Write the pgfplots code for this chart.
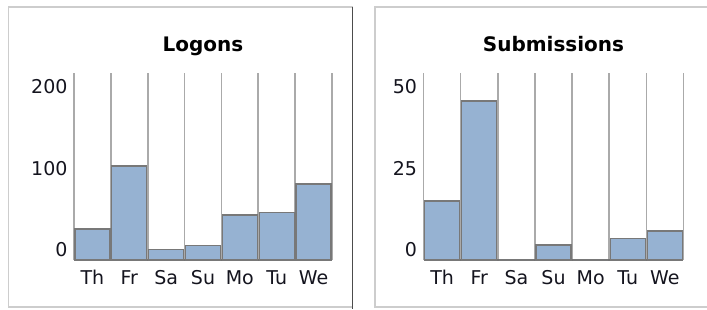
\documentclass[border=0pt]{standalone}
\usepackage{pgfplots}
\pgfplotsset{compat=1.18}
\usepackage{fontspec}
\setmainfont{DejaVu Sans}
\definecolor{barfill}{RGB}{150,178,210}
\definecolor{baredge}{RGB}{120,120,120}
\definecolor{gridc}{RGB}{170,170,170}
\definecolor{framec}{RGB}{205,205,205}
\definecolor{txt}{RGB}{20,20,30}
\pgfplotsset{
  daychart/.style={
    scale only axis,
    anchor=south west,
    height=187.5pt,
    xmin=-0.5, xmax=6.5,
    ymin=0,
    axis line style={draw=none},
    xtick={0,1,2,3,4,5,6},
    xticklabels={Th,Fr,Sa,Su,Mo,Tu,We},
    minor xtick={-0.5,0.5,1.5,2.5,3.5,4.5,5.5,6.5},
    xminorgrids=true,
    minor grid style={draw=gridc, line width=1.6pt},
    major tick length=0pt, minor tick length=0pt,
    extra y ticks={0}, extra y tick labels={},
    extra y tick style={grid=major, major grid style={draw=black!55, line width=2.4pt}},
    ticklabel style={font=\fontsize{19}{19}\selectfont, text=txt},
    yticklabel style={yshift=10pt, xshift=-3pt},
    xticklabel style={yshift=-7pt},
    title style={font=\bfseries\fontsize{20}{20}\selectfont, text depth=5pt, yshift=6pt},
    ybar, bar width=35pt,
    /pgf/number format/assume math mode=true,
    clip=false,
  }
}
\begin{document}
\begin{tikzpicture}[x=1pt,y=1pt]
\useasboundingbox (0,0) rectangle (707,-309);
\draw[framec, line width=1.2pt] (352.5,-7) -- (8.5,-7) -- (8.5,-307) -- (352.5,-307);
\draw[black!70, line width=1.6pt] (352.5,-7) -- (352.5,-309);
\draw[framec, line width=1.2pt] (708,-7) -- (375,-7) -- (375,-307) -- (708,-307);
\begin{axis}[daychart, at={(74pt,-260pt)}, width=258pt,
  ymax=230, ytick={0,100,200}, title={Logons}]
\addplot[fill=barfill, draw=baredge, line width=1.4pt] coordinates {
 (0,38) (1,115.5) (2,13) (3,17.5) (4,55) (5,58.5) (6,93)};
\end{axis}
\begin{axis}[daychart, at={(423.5pt,-260pt)}, width=260pt,
  ymax=57.5, ytick={0,25,50}, title={Submissions}]
\addplot[fill=barfill, draw=baredge, line width=1.4pt] coordinates {
 (0,18.1) (1,48.8) (2,0) (3,4.6) (4,0) (5,6.6) (6,8.9)};
\end{axis}
\end{tikzpicture}
\end{document}
